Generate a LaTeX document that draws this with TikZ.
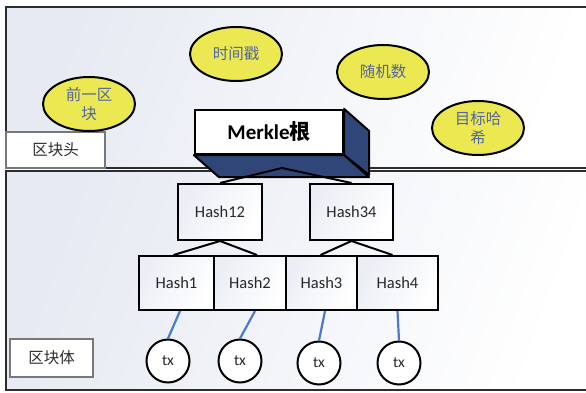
\documentclass[tikz,border=0pt]{standalone}
\usepackage{fontspec}
\setmainfont{Carlito}
\newfontfamily\cjk{Noto Sans CJK SC}
\usetikzlibrary{shapes.geometric}

\definecolor{paneltint}{RGB}{230,234,242}
\definecolor{fieldyellow}{RGB}{236,232,82}
\definecolor{fieldtext}{RGB}{82,102,158}
\definecolor{rootnavy}{RGB}{48,70,120}
\definecolor{txblue}{RGB}{74,122,200}
\definecolor{framegray}{RGB}{45,45,45}
\definecolor{labelgray}{RGB}{120,120,120}
\definecolor{hashtext}{RGB}{40,40,40}

\tikzset{
  field/.style={ellipse, draw=black, line width=2pt, fill=fieldyellow,
    minimum width=92pt, minimum height=54pt, inner sep=0pt,
    text=fieldtext, font=\cjk\fontsize{15.5}{19}\selectfont, align=center},
  hashbox/.style={rectangle, draw=black, line width=2pt,
    left color=paneltint!80, right color=white, shading angle=60,
    inner sep=0pt, text=hashtext, font=\fontsize{16.5}{18}\selectfont},
  txnode/.style={circle, draw=black, line width=2pt, fill=white,
    minimum size=43pt, inner sep=0pt, text=hashtext,
    font=\fontsize{15.5}{17}\selectfont},
  sectionlabel/.style={rectangle, draw=labelgray, line width=1.1pt, fill=white,
    inner sep=0pt, text=framegray, font=\cjk\fontsize{15.5}{17}\selectfont},
  treeedge/.style={draw=black, line width=2pt},
  txedge/.style={draw=txblue, line width=2.2pt},
}

\begin{document}
\begin{tikzpicture}[x=1pt,y=-1pt]
\useasboundingbox (0,0) rectangle (586,393);
\fill[white] (0,0) rectangle (586,393);

% block header and block body panels
\path[left color=paneltint, right color=white, shading angle=70,
      draw=framegray, line width=2pt] (6,7) rectangle (600,168);
\path[left color=paneltint, right color=white, shading angle=70,
      draw=framegray, line width=2pt] (6,171) rectangle (600,390);

% section labels
\node[sectionlabel, minimum width=99pt, minimum height=36pt] (hdr) at (55.5,150) {区块头};
\node[sectionlabel, minimum width=83pt, minimum height=38pt] (body) at (51.5,358) {区块体};

% header fields
\node[field] (prev)  at (89,104)  {前一区\\块};
\node[field] (time)  at (236,54)  {时间戳};
\node[field] (nonce) at (383,72)  {随机数};
\node[field] (target) at (478,128) {目标哈\\希};

% Merkle root drawn as an extruded box
\node[rectangle, draw=black, line width=2.2pt, fill=white,
      minimum width=148pt, minimum height=44pt, inner sep=0pt,
      font=\bfseries\fontsize{21}{23}\selectfont] (root) at (269,132) {Merkle{\cjk 根}};
\fill[rootnavy, draw=black, line width=2pt, line join=round]
  (root.north east) -- ++(25,22) -- ++(0,44) -- (root.south east) -- cycle;
\fill[rootnavy, draw=black, line width=2pt, line join=round]
  (root.south west) -- (root.south east) -- ++(25,22) -- ([xshift=25pt,yshift=-22pt]root.south west) -- cycle;
\coordinate (apex) at (282,168);

% hash tree
\node[hashbox, minimum width=84pt, minimum height=56pt] (h12) at (220,212) {Hash12};
\node[hashbox, minimum width=83pt, minimum height=56pt] (h34) at (351.5,212) {Hash34};
\node[hashbox, minimum width=75pt, minimum height=54pt] (h1) at (176.5,283) {Hash1};
\node[hashbox, minimum width=72pt, minimum height=54pt] (h2) at (250,283) {Hash2};
\node[hashbox, minimum width=71pt, minimum height=54pt] (h3) at (321.5,283) {Hash3};
\node[hashbox, minimum width=81pt, minimum height=54pt] (h4) at (397.5,283) {Hash4};

\draw[treeedge] (apex) -- (h12.north);
\draw[treeedge] (apex) -- (h34.north);
\draw[treeedge] (h12.south) -- ([xshift=-3pt]h1.north);
\draw[treeedge] (h12.south) -- ([xshift=7pt]h2.north);
\draw[treeedge] (h34.south) -- ([xshift=-1pt]h3.north);
\draw[treeedge] (h34.south) -- ([xshift=-5pt]h4.north);

% transactions
\node[txnode] (tx1) at (168,361) {tx};
\node[txnode] (tx2) at (240,361) {tx};
\node[txnode] (tx3) at (319,363) {tx};
\node[txnode] (tx4) at (399,363) {tx};

\draw[txedge] ([xshift=3.5pt]h1.south) -- (tx1.north);
\draw[txedge] ([xshift=5pt]h2.south) -- (tx2.north);
\draw[txedge] ([xshift=3.5pt]h3.south) -- (tx3.north);
\draw[txedge] (h4.south) -- (tx4.north);
\end{tikzpicture}
\end{document}
